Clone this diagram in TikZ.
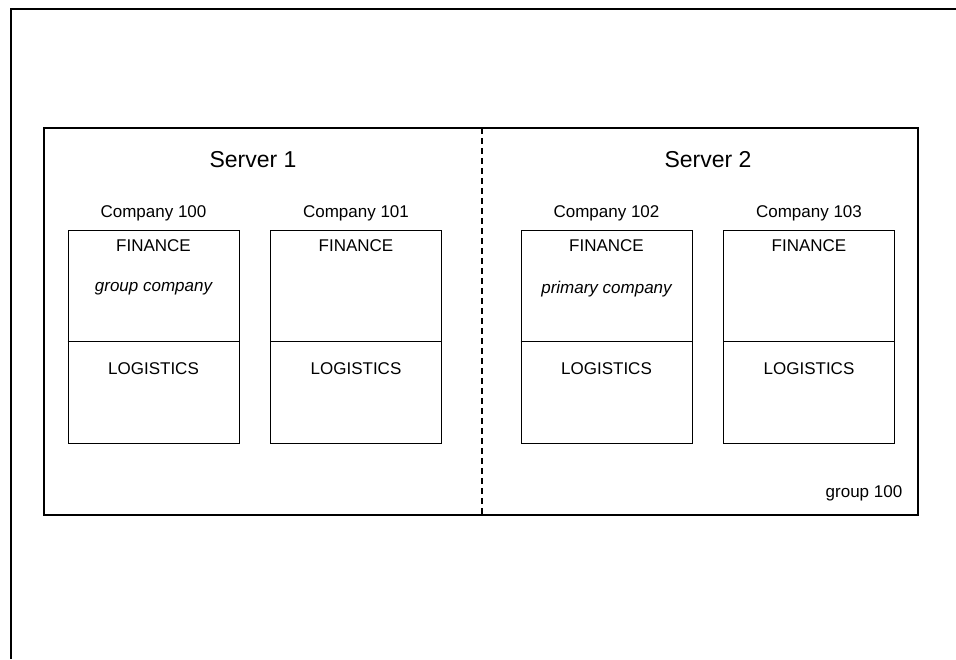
\documentclass[tikz,border=0pt]{standalone}
\usepackage{fontspec}
\setmainfont{Liberation Sans}
\usepackage{tikz}
\newcommand{\Fin}{FINANCE}
\newcommand{\Log}{LOGISTICS}
\tikzset{
	company/.style={draw, line width=1pt, minimum width=171pt, minimum height=213pt, inner sep=0pt},
	lbl/.style={font=\fontsize{17}{20}\selectfont, inner sep=0pt},
	srv/.style={font=\fontsize{23}{27}\selectfont, inner sep=0pt}
}

\begin{document}
\begin{tikzpicture}[x=1pt, y=-1pt]

				\useasboundingbox (0,0) rectangle (956,659);

				% page frame
				\draw[line width=1.5pt] (956,9) -- (11,9) -- (11,659);

				% group box
				\node[draw, line width=1.2pt, minimum width=874pt, minimum height=387pt, inner sep=0pt]
					(group) at (481,321.5) {};
				\coordinate (cutTop) at (482,128);
				\coordinate (cutBot) at (482,515);
				\draw[dashed, line width=1.5pt, dash pattern=on 6pt off 4pt] (cutTop) -- (cutBot);

				\node[srv] 	(server1)	at (253,160) 	{Server 1};
				\node[srv] 	(server2)	at (708,160) 	{Server 2};

				\foreach \name/\x/\num in {c100/153.5/100, c101/356/101, c102/606.5/102, c103/809/103}{
					\node[lbl] 	(\name lbl) 	at (\x,213) 	{Company \num};
					\node[company] 	(\name) 	at (\x,336.5) 	{};
					\node[lbl] 	(\name fin) 	at (\x,246) 	{\Fin};
					\node[lbl] 	(\name log) 	at (\x,369) 	{\Log};
					\draw[line width=1pt] (\name.west |- 0,341) -- (\name.east |- 0,341);
				}

				\node[lbl] 	(c100role) 	at (153.5,289) 	{\itshape group company};
				\node[lbl] 	(c102role) 	at (606.5,289) 	{\itshape primary company};

				\node[lbl] 	(grouplbl) 	at (864,493) 	{group 100};

\end{tikzpicture}
\end{document}
